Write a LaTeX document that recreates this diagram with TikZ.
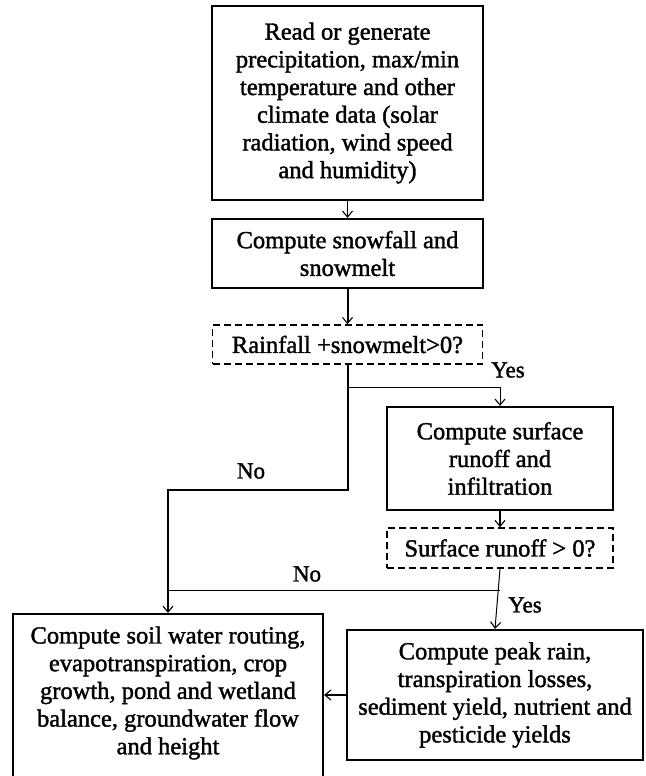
\documentclass[tikz,border=0pt]{standalone}
\usepackage{fontspec}
\setmainfont{Liberation Serif}[FakeBold=1.5]
\usetikzlibrary{arrows.meta}
\begin{document}
\begin{tikzpicture}[x=1pt,y=-1pt,
  txt/.style={align=center,inner sep=0pt,font=\fontsize{24.5}{27.7}\selectfont},
  box/.style={txt,draw,line width=2.2pt},
  dbox/.style={txt,draw,line width=1.5pt,dash pattern=on 7pt off 4pt},
  lbl/.style={inner sep=0pt,font=\fontsize{23}{26}\selectfont},
  thk/.style={line width=2pt},
  mid/.style={line width=1.6pt},
  thn/.style={line width=1pt},
  arr/.style={-{Straight Barb[length=6pt,width=10pt,line width=1.1pt]}}]
\useasboundingbox (0,0) rectangle (645,776);
\fill[white] (0,0) rectangle (645,776);
\node[box,minimum width=271pt,minimum height=194pt] (top) at (347.5,103)
  {Read or generate\\precipitation, max/min\\temperature and other\\climate data (solar\\radiation, wind speed\\and humidity)};
\node[box,minimum width=271pt,minimum height=69pt] (snow) at (347.5,253.5)
  {Compute snowfall and\\snowmelt};
\node[dbox,minimum width=270pt,minimum height=39pt] (dec1) at (347.5,344.5)
  {Rainfall +snowmelt>0?};
\node[box,minimum width=226pt,minimum height=103pt] (surf) at (500,458.5)
  {Compute surface\\runoff and\\infiltration};
\node[dbox,minimum width=226pt,minimum height=40pt] (dec2) at (500,548)
  {Surface runoff > 0?};
\node[draw,line width=2.2pt,minimum width=310pt,minimum height=180pt,anchor=north,inner sep=0pt] (left) at (168,613) {};
\node[txt] (lefttext) at (168,693)
  {Compute soil water routing,\\evapotranspiration, crop\\growth, pond and wetland\\balance, groundwater flow\\and height};
\node[box,minimum width=296pt,minimum height=130pt] (right) at (495,695)
  {Compute peak rain,\\transpiration losses,\\sediment yield, nutrient and\\pesticide yields};
\coordinate (j1) at (347.5,387);
\coordinate (j2) at (500,590);
\node[lbl] (yes1) at (508,370) {Yes};
\node[lbl] (no1) at (251,471) {No};
\node[lbl] (no2) at (307,574) {No};
\node[lbl] (yes2) at (525,605) {Yes};
\draw[mid,arr] (top) -- (snow);
\draw[thk,arr] (snow) -- (dec1);
\draw[thk,arr] (dec1.south) -- (347.5,490) -| (left.north);
\draw[thn,arr] (j1) -| (surf.north);
\draw[mid,arr] (surf) -- (dec2);
\draw[thn,arr] (dec2.south) -- (right.north);
\draw[thn] (j2) -- (j2 -| left.north);
\draw[thk,arr] (right.west) -- (right.west -| left.east);
\end{tikzpicture}
\end{document}
